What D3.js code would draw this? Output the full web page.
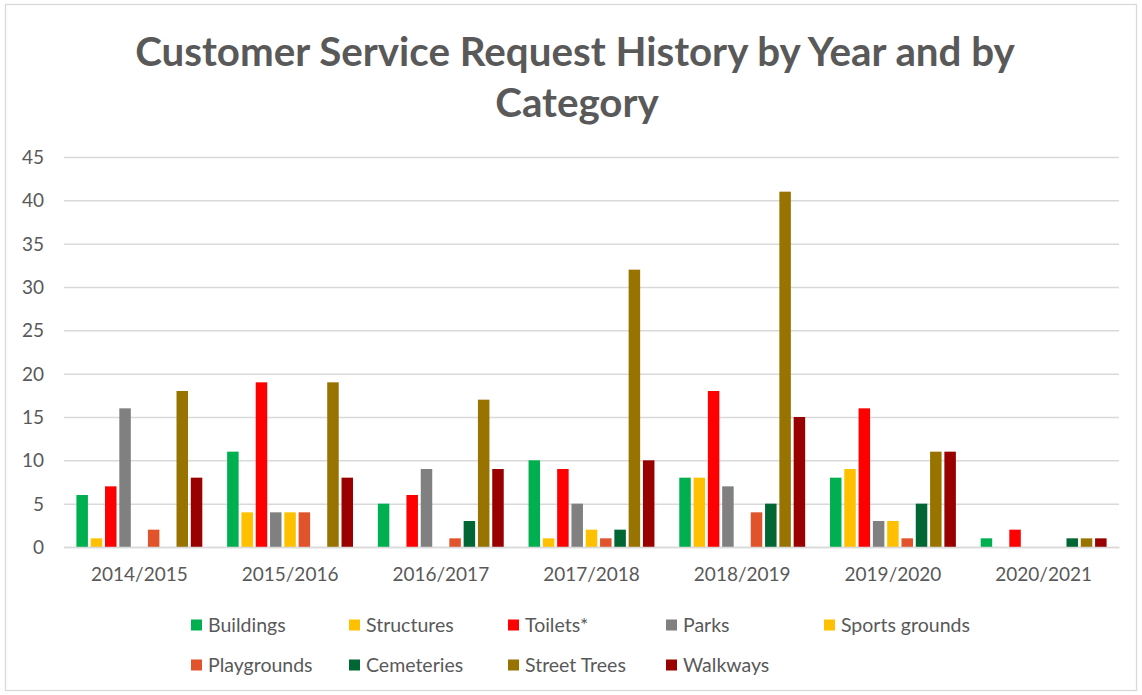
<!DOCTYPE html>
<html>
<head>
<meta charset="utf-8">
<script src="https://cdn.jsdelivr.net/npm/d3@7"></script>
<style>
  html, body { margin: 0; padding: 0; background: #ffffff; }
  svg { display: block; }
  text { font-family: "Lato", "Open Sans", sans-serif; fill: #595959; }
</style>
</head>
<body>
<script>
// Service request counts per financial year, one array per category
const years = ["2014/2015", "2015/2016", "2016/2017", "2017/2018", "2018/2019", "2019/2020", "2020/2021"];
const seriesNames = ["Buildings", "Structures", "Toilets*", "Parks", "Sports grounds", "Playgrounds", "Cemeteries", "Street Trees", "Walkways"];
const buildings     = [6, 11, 5, 10, 8, 8, 1];
const structures    = [1, 4, 0, 1, 8, 9, 0];
const toilets       = [7, 19, 6, 9, 18, 16, 2];
const parks         = [16, 4, 9, 5, 7, 3, 0];
const sportsGrounds = [0, 4, 0, 2, 0, 3, 0];
const playgrounds   = [2, 4, 1, 1, 4, 1, 0];
const cemeteries    = [0, 0, 3, 2, 5, 5, 1];
const streetTrees   = [18, 19, 17, 32, 41, 11, 1];
const walkways      = [8, 8, 9, 10, 15, 11, 1];
const yTicks = [0, 5, 10, 15, 20, 25, 30, 35, 40, 45];
const colors = ["#00B050", "#FFC000", "#FF0000", "#808080", "#FFC000", "#E0532B", "#006633", "#997300", "#990000"];

const seriesValues = [buildings, structures, toilets, parks, sportsGrounds, playgrounds, cemeteries, streetTrees, walkways];
const series = seriesNames.map((name, i) => ({ name, color: colors[i], values: seriesValues[i] }));

const W = 1142, H = 695;
const plot = { left: 64, right: 1119, top: 157, bottom: 547 };

const svg = d3.select("body").append("svg").attr("width", W).attr("height", H);

// chart frame
svg.append("rect")
  .attr("x", 5.5).attr("y", 4.5).attr("width", W - 11).attr("height", H - 9)
  .attr("fill", "#ffffff").attr("stroke", "#D9D9D9").attr("stroke-width", 1.3);

// title on two lines, sized to span the upper line
const title = svg.append("g").attr("class", "title");
const titleLines = ["Customer Service Request History by Year and by", "Category"];
const t1 = title.append("text").attr("x", 575).attr("y", 66).attr("text-anchor", "middle")
  .attr("font-weight", 700).attr("font-size", 36).text(titleLines[0]);
const fitSize = 36 * 880 / t1.node().getComputedTextLength();
t1.attr("font-size", fitSize);
title.append("text").attr("x", 577).attr("y", 117).attr("text-anchor", "middle")
  .attr("font-weight", 700).attr("font-size", fitSize).text(titleLines[1]);

const x0 = d3.scaleBand().domain(years).range([plot.left, plot.right]).padding(0);
const x1 = d3.scaleBand().domain(seriesNames).range([0, x0.bandwidth()])
  .paddingInner(0.196).paddingOuter(0.868);
const y = d3.scaleLinear().domain([0, 45]).range([plot.bottom, plot.top]);

// horizontal gridlines and value labels
const yAxis = d3.axisLeft(y).tickValues(yTicks).tickSize(-(plot.right - plot.left)).tickPadding(20);
const gy = svg.append("g").attr("transform", `translate(${plot.left},0)`).call(yAxis);
gy.select(".domain").remove();
gy.selectAll(".tick line").attr("stroke", "#D9D9D9").attr("stroke-width", 1.5);
gy.selectAll(".tick text").attr("font-size", 19).attr("fill", "#595959")
  .attr("font-family", "Lato, 'Open Sans', sans-serif").attr("dy", "0.34em");

// bars
const groups = svg.append("g").selectAll("g")
  .data(years).join("g")
  .attr("transform", d => `translate(${x0(d)},0)`);

groups.selectAll("rect")
  .data((yr, yi) => series.map(s => ({ name: s.name, color: s.color, value: s.values[yi] })).filter(d => d.value > 0))
  .join("rect")
  .attr("x", d => x1(d.name))
  .attr("width", x1.bandwidth())
  .attr("y", d => y(d.value))
  .attr("height", d => y(0) - y(d.value))
  .attr("fill", d => d.color);

// category axis along the baseline
const xAxis = d3.axisBottom(x0).tickSize(0).tickPadding(21);
const gx = svg.append("g").attr("transform", `translate(0,${plot.bottom})`).call(xAxis);
gx.select(".domain").attr("stroke", "#D9D9D9").attr("stroke-width", 1.5);
gx.selectAll(".tick text").attr("font-size", 19).attr("fill", "#595959")
  .attr("font-family", "Lato, 'Open Sans', sans-serif");

// legend in two rows of five columns
const legendCols = [191, 349, 508, 666, 824];
const legendRows = [625, 665];
const legend = svg.append("g").selectAll("g")
  .data(series).join("g")
  .attr("transform", (d, i) => `translate(${legendCols[i % 5]},${legendRows[Math.floor(i / 5)]})`);
legend.append("rect").attr("x", 0).attr("y", -5.5).attr("width", 11).attr("height", 11)
  .attr("fill", d => d.color);
legend.append("text").attr("x", 17).attr("y", 0).attr("dy", "0.35em")
  .attr("font-size", 19.5).text(d => d.name);
</script>
</body>
</html>
